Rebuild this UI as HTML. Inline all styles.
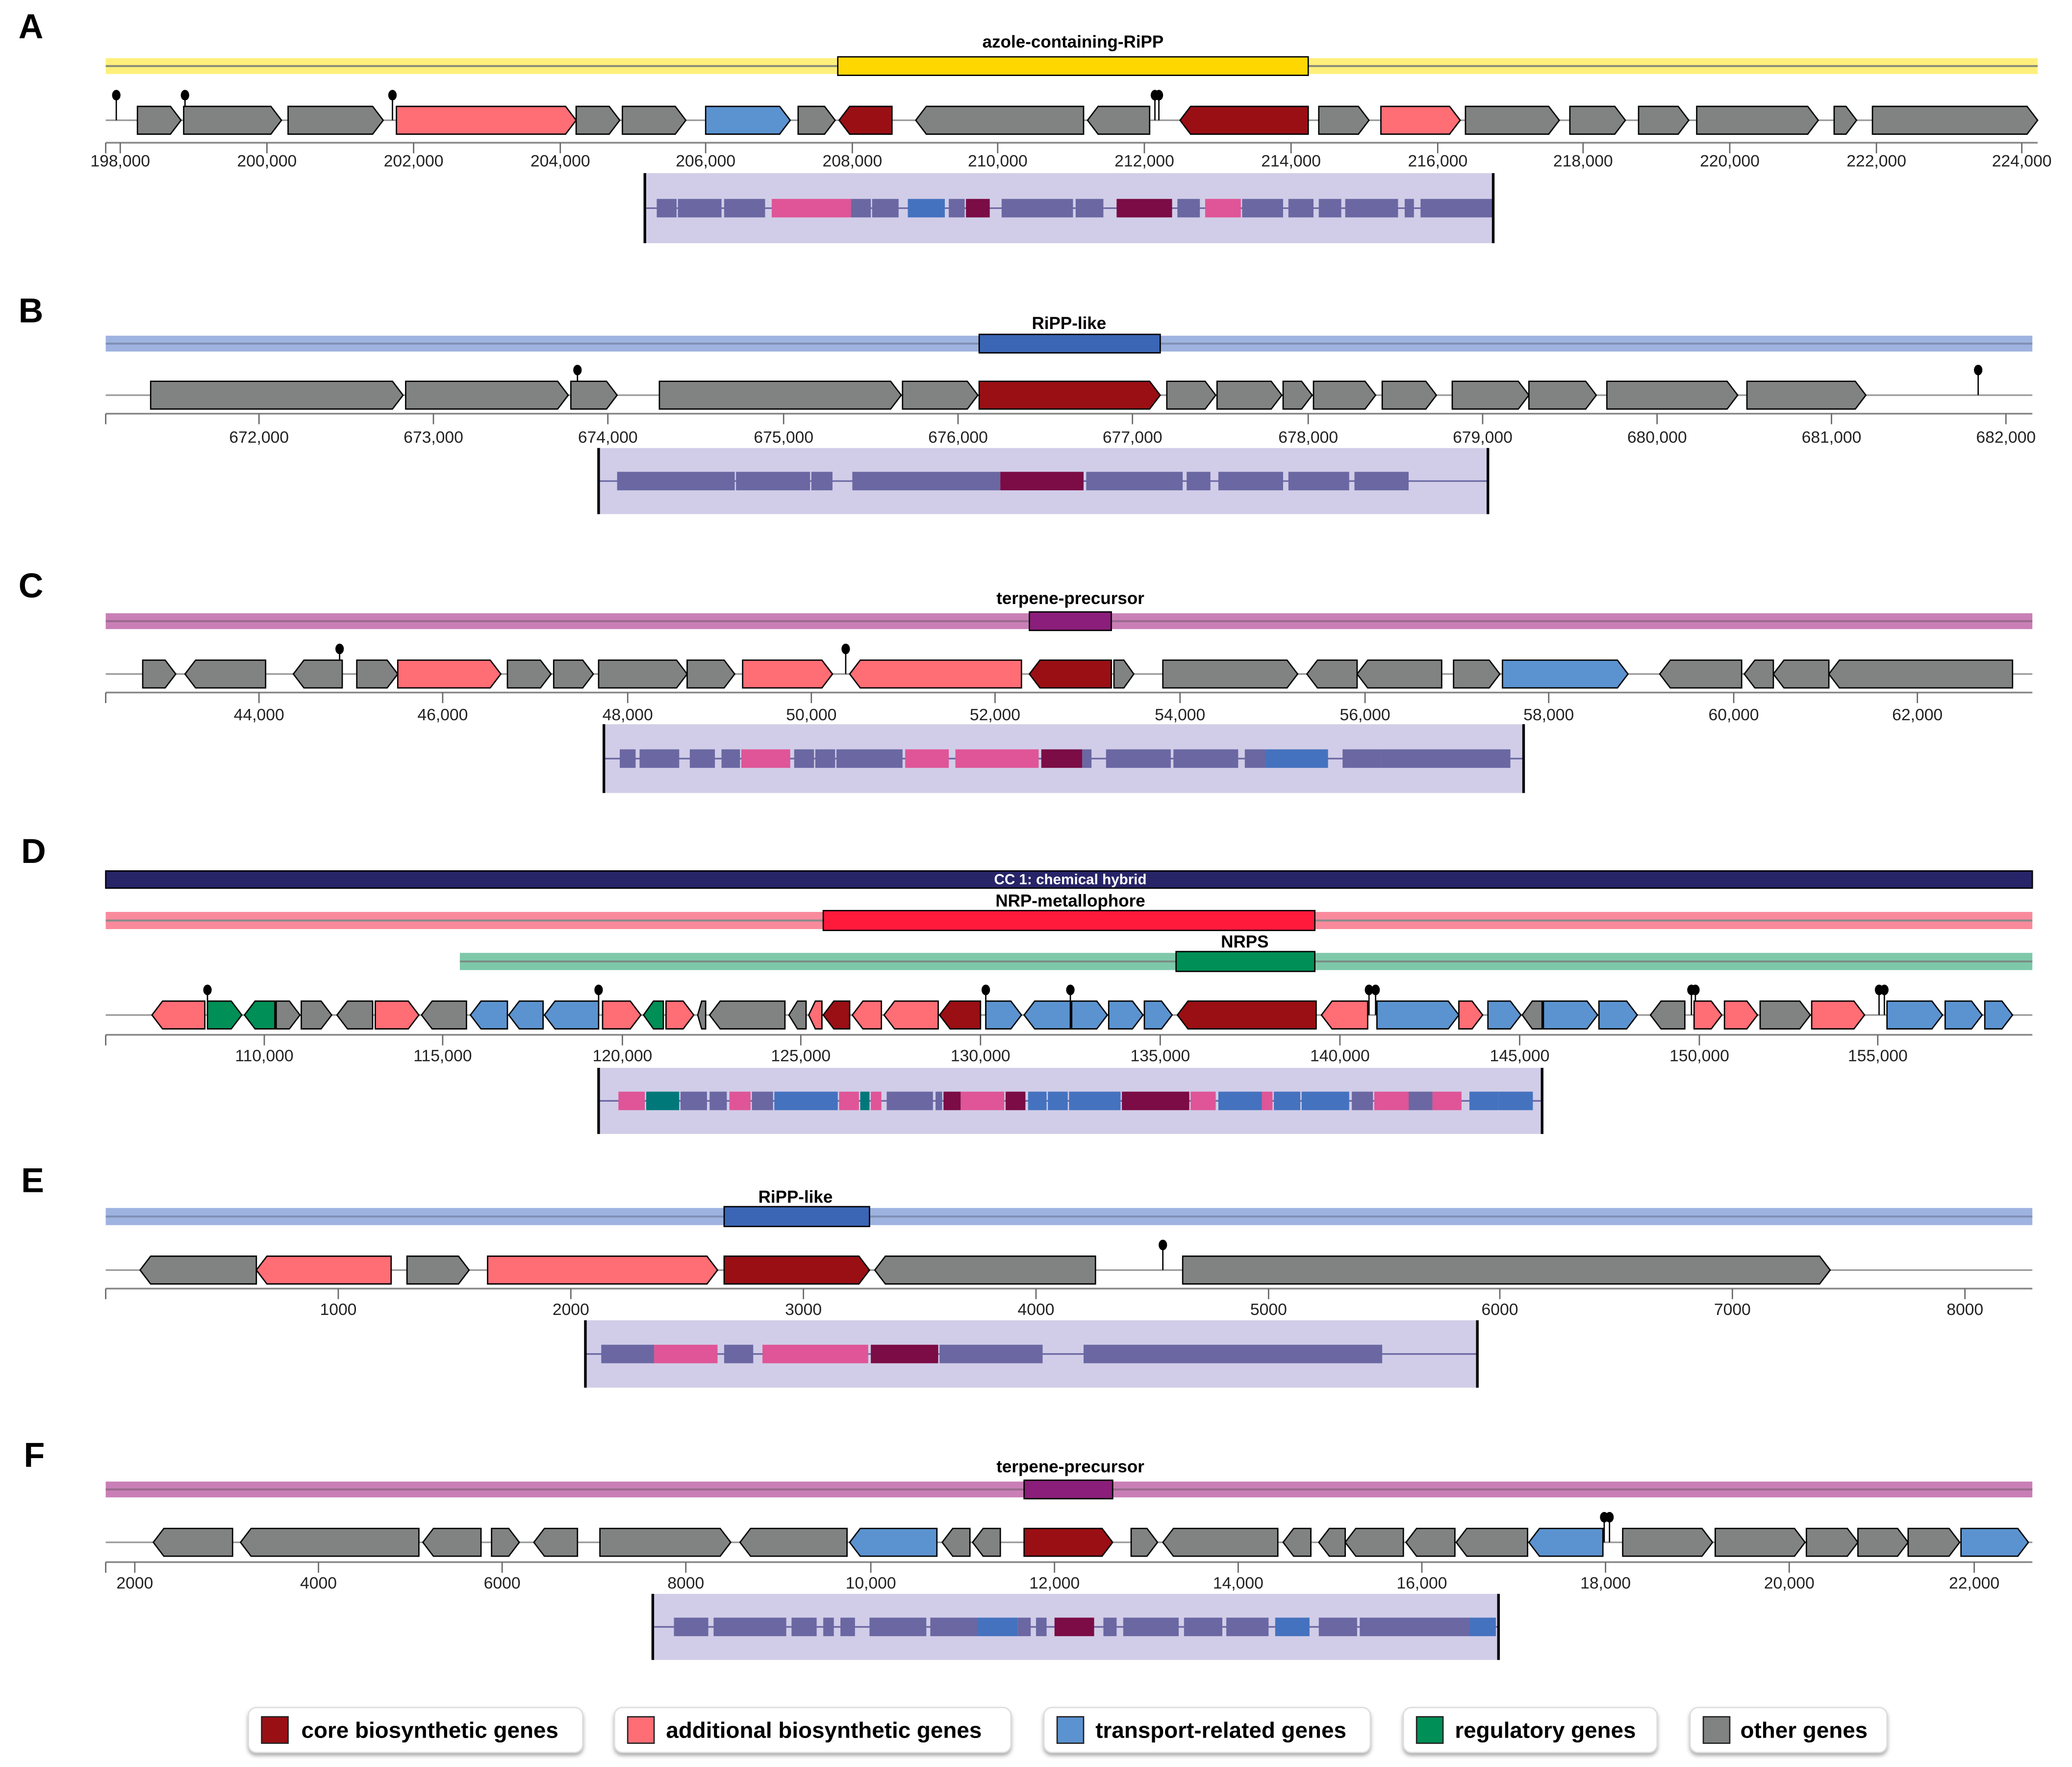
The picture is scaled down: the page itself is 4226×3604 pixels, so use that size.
<!DOCTYPE html>
<html><head><meta charset="utf-8">
<style>
html,body{margin:0;padding:0;background:#fff;}
svg{display:block;}
text{font-family:"Liberation Sans",Arial,sans-serif;}
.pl{font-size:26px;font-weight:bold;}
.rl{font-size:13px;font-weight:bold;text-anchor:middle;}
.ax{font-size:12.5px;text-anchor:middle;fill:#222;}
.lg{font-size:17px;font-weight:bold;}
</style></head>
<body>
<svg id="s" width="4226" height="3604" viewBox="0 0 1568 1337" preserveAspectRatio="none" xmlns="http://www.w3.org/2000/svg">
<defs><filter id="sh" x="-10%" y="-20%" width="120%" height="150%"><feDropShadow dx="0" dy="2" stdDeviation="1.5" flood-color="#888" flood-opacity="0.7"/></filter></defs>
<g id="g"></g>
<text class="pl" x="14" y="29">A</text>
<text class="pl" x="14" y="244">B</text>
<text class="pl" x="14" y="452">C</text>
<text class="pl" x="16" y="653">D</text>
<text class="pl" x="16" y="902">E</text>
<text class="pl" x="18" y="1110">F</text>
<text class="rl" x="812" y="36">azole-containing-RiPP</text>
<text class="rl" x="809" y="249">RiPP-like</text>
<text class="rl" x="810" y="457">terpene-precursor</text>
<text class="rl" x="810" y="669" style="fill:#fff;font-size:11px">CC 1: chemical hybrid</text>
<text class="rl" x="810" y="686">NRP-metallophore</text>
<text class="rl" x="942" y="717">NRPS</text>
<text class="rl" x="602" y="910">RiPP-like</text>
<text class="rl" x="810" y="1114">terpene-precursor</text>
<g id="ax"></g>
<g filter="url(#sh)" fill="#fff" stroke="#ddd" stroke-width="1">
<rect x="188" y="1292" width="253" height="34" rx="6"/>
<rect x="465" y="1292" width="300" height="34" rx="6"/>
<rect x="790" y="1292" width="247" height="34" rx="6"/>
<rect x="1062" y="1292" width="192" height="34" rx="6"/>
<rect x="1279" y="1292" width="149" height="34" rx="6"/>
</g>
<g stroke="#222" stroke-width="1">
<rect x="198" y="1299" width="20" height="20" fill="#9a0f14"/>
<rect x="475" y="1299" width="20" height="20" fill="#ff6d75"/>
<rect x="800" y="1299" width="20" height="20" fill="#5b93d0"/>
<rect x="1072" y="1299" width="20" height="20" fill="#008f56"/>
<rect x="1289" y="1299" width="20" height="20" fill="#818382"/>
</g>
<text class="lg" x="228" y="1315">core biosynthetic genes</text>
<text class="lg" x="504" y="1315">additional biosynthetic genes</text>
<text class="lg" x="829" y="1315">transport-related genes</text>
<text class="lg" x="1101" y="1315">regulatory genes</text>
<text class="lg" x="1317" y="1315">other genes</text>
</svg>
<script>
var C={c:'#9a0f14',a:'#ff6d75',t:'#5b93d0',r:'#008f56',o:'#818382'};
var M={o:'#6a67a3',a:'#df5597',c:'#7b0c45',t:'#4472bf',r:'#00787a'};
var h='';
function bar(x1,x2,y1,y2,fill,hx1,hx2,hfill,lc){
 h+='<rect x="'+x1+'" y="'+y1+'" width="'+(x2-x1)+'" height="'+(y2-y1)+'" fill="'+fill+'"/>';
 var m=(y1+y2)/2;h+='<line x1="'+x1+'" x2="'+x2+'" y1="'+m+'" y2="'+m+'" stroke="'+(lc||'#8a8a7a')+'" stroke-width="1.5"/>';
 if(hx1!=null)h+='<rect x="'+hx1+'" y="'+(y1-1)+'" width="'+(hx2-hx1)+'" height="'+(y2-y1+2)+'" fill="'+hfill+'" stroke="#000" stroke-width="1"/>';
}
function track(y,x1,x2,genes,pins){
 h+='<line x1="'+x1+'" x2="'+x2+'" y1="'+y+'" y2="'+y+'" stroke="#999" stroke-width="1.2"/>';
 pins.forEach(function(p){h+='<line x1="'+p+'" x2="'+p+'" y1="'+(y-19)+'" y2="'+y+'" stroke="#000" stroke-width="1"/><ellipse cx="'+p+'" cy="'+(y-19)+'" rx="3.2" ry="4" fill="#000"/>';});
 genes.forEach(function(g){var a=g[0],b=g[1],d=g[2],col=C[g[3]];var t=y-10.5,bo=y+10.5,hl=Math.min(8,(b-a)*0.5);var pts;
  if(d>0)pts=[[a,t],[b-hl,t],[b,y],[b-hl,bo],[a,bo]];else pts=[[b,t],[a+hl,t],[a,y],[a+hl,bo],[b,bo]];
  h+='<polygon points="'+pts.map(function(p){return p.join(',')}).join(' ')+'" fill="'+col+'" stroke="#000" stroke-width="1"/>';});
}
function axis(y,x1,x2,ticks,ly){
 h+='<line x1="'+x1+'" x2="'+x2+'" y1="'+y+'" y2="'+y+'" stroke="#888" stroke-width="1.3"/>';
 h+='<line x1="'+x1+'" x2="'+x1+'" y1="'+y+'" y2="'+(y+8)+'" stroke="#666"/>';
 ticks.forEach(function(t){h+='<line x1="'+t[0]+'" x2="'+t[0]+'" y1="'+y+'" y2="'+(y+8)+'" stroke="#666"/><text class="ax" x="'+t[0]+'" y="'+ly+'" style="font-size:12.5px;text-anchor:middle;fill:#222;font-family:Liberation Sans,sans-serif">'+t[1]+'</text>';});
}
function mini(x1,x2,y1,y2,blocks){
 h+='<rect x="'+x1+'" y="'+y1+'" width="'+(x2-x1)+'" height="'+(y2-y1)+'" fill="#d1cde8"/>';
 var m=(y1+y2)/2;h+='<line x1="'+x1+'" x2="'+x2+'" y1="'+m+'" y2="'+m+'" stroke="#6a67a3" stroke-width="1.2"/>';
 blocks.forEach(function(b){h+='<rect x="'+b[0]+'" y="'+(m-7)+'" width="'+(b[1]-b[0])+'" height="14" fill="'+M[b[2]||'o']+'"/>';});
 h+='<line x1="'+x1+'" x2="'+x1+'" y1="'+y1+'" y2="'+y2+'" stroke="#000" stroke-width="2"/><line x1="'+x2+'" x2="'+x2+'" y1="'+y1+'" y2="'+y2+'" stroke="#000" stroke-width="2"/>';
}
function T(xs,labs){return xs.map(function(x,i){return [x,labs[i]]});}
// A
bar(80,1542,44,56,'#fff07c',634,990,'#ffd700');
track(91,80,1542,[[104,137,1,'o'],[139,213,1,'o'],[218,290,1,'o'],[300,436,1,'a'],[436,469,1,'o'],[471,519,1,'o'],[534,598,1,'t'],[604,632,1,'o'],[635,675,-1,'c'],[693,820,-1,'o'],[823,870,-1,'o'],[893,990,-1,'c'],[998,1036,1,'o'],[1045,1105,1,'a'],[1109,1180,1,'o'],[1188,1230,1,'o'],[1240,1278,1,'o'],[1284,1376,1,'o'],[1388,1405,1,'o'],[1417,1542,1,'o']],[88,140,297,874,877]);
axis(108,80,1542,T([91,202,313,424,534,645,755,866,977,1088,1198,1309,1420,1530],['198,000','200,000','202,000','204,000','206,000','208,000','210,000','212,000','214,000','216,000','218,000','220,000','222,000','224,000']),126);
mini(488,1130,131,184,[[497,512],[513,546],[548,579],[584,644,'a'],[644,659],[660,680],[687,715,'t'],[718,730],[731,749,'c'],[758,812],[814,835],[845,887,'c'],[891,908],[912,939,'a'],[940,971],[975,994],[998,1015],[1018,1058],[1063,1070],[1075,1130]]);
// B
bar(80,1538,254,266,'#9fb3e0',741,878,'#3a66b5','#7f8fb5');
track(299,80,1538,[[114,305,1,'o'],[307,430,1,'o'],[432,467,1,'o'],[499,682,1,'o'],[683,740,1,'o'],[741,878,1,'c'],[883,920,1,'o'],[921,970,1,'o'],[971,993,1,'o'],[994,1041,1,'o'],[1046,1087,1,'o'],[1099,1157,1,'o'],[1157,1208,1,'o'],[1216,1315,1,'o'],[1322,1412,1,'o']],[437,1497]);
axis(313,80,1538,T([196,328,460,593,725,857,990,1122,1254,1386,1518],['672,000','673,000','674,000','675,000','676,000','677,000','678,000','679,000','680,000','681,000','682,000']),335);
mini(453,1126,339,389,[[467,556],[557,613],[614,630],[645,757],[757,820,'c'],[822,895],[898,916],[922,971],[975,1021],[1025,1066]]);
// C
bar(80,1538,464,476,'#c97fb6',779,841,'#8b1e7a','#9a6a8e');
track(510,80,1538,[[108,133,1,'o'],[140,201,-1,'o'],[222,259,-1,'o'],[270,301,1,'o'],[301,379,1,'a'],[384,417,1,'o'],[419,449,1,'o'],[453,520,1,'o'],[520,556,1,'o'],[562,630,1,'a'],[643,773,-1,'a'],[779,841,-1,'c'],[843,858,1,'o'],[880,982,1,'o'],[989,1027,-1,'o'],[1027,1091,-1,'o'],[1100,1135,1,'o'],[1137,1232,1,'t'],[1256,1318,-1,'o'],[1320,1342,-1,'o'],[1342,1384,-1,'o'],[1384,1523,-1,'o']],[257,640]);
axis(524,80,1538,T([196,335,475,614,753,893,1033,1172,1312,1451],['44,000','46,000','48,000','50,000','52,000','54,000','56,000','58,000','60,000','62,000']),545);
mini(457,1153,548,600,[[469,481],[484,514],[522,541],[546,560],[561,598,'a'],[601,616],[617,632],[633,683],[685,718,'a'],[723,786,'a'],[788,819,'c'],[819,826],[837,886],[888,937],[942,958],[958,1005,'t'],[1016,1045],[1045,1143]]);
// D
h+='<rect x="80" y="659" width="1458" height="13" fill="#272468" stroke="#000" stroke-width="1"/>';
bar(80,1538,690,703,'#f98a9c',623,995,'#ff1a3c','#8a8a8a');
bar(348,1538,721,734,'#7ec8aa',890,995,'#008f56','#7a8f85');
track(768,80,1538,[[115,155,-1,'a'],[157,183,1,'r'],[185,208,-1,'r'],[209,227,1,'o'],[228,251,1,'o'],[255,282,-1,'o'],[284,317,1,'a'],[319,353,-1,'o'],[356,384,-1,'t'],[385,411,-1,'t'],[412,453,-1,'t'],[456,485,1,'a'],[487,502,-1,'r'],[504,525,1,'a'],[528,534,-1,'o'],[537,594,-1,'o'],[597,610,-1,'o'],[612,622,-1,'a'],[623,643,-1,'c'],[645,667,-1,'a'],[669,710,-1,'a'],[711,742,-1,'c'],[746,773,1,'t'],[775,810,-1,'t'],[811,838,1,'t'],[839,865,1,'t'],[866,887,1,'t'],[891,996,-1,'c'],[1000,1035,-1,'a'],[1042,1104,1,'t'],[1104,1122,1,'a'],[1126,1151,1,'t'],[1152,1167,-1,'o'],[1168,1209,1,'t'],[1210,1239,1,'t'],[1249,1275,-1,'o'],[1282,1303,1,'a'],[1305,1330,1,'a'],[1332,1370,1,'o'],[1371,1411,1,'a'],[1428,1470,1,'t'],[1472,1500,1,'t'],[1502,1523,1,'t']],[157,453,746,810,1036,1041,1280,1283,1422,1426]);
axis(783,80,1538,T([200,335,471,606,742,878,1014,1150,1286,1421],['110,000','115,000','120,000','125,000','130,000','135,000','140,000','145,000','150,000','155,000']),803);
mini(453,1167,808,858,[[468,488,'a'],[489,514,'r'],[515,535],[537,550],[552,568,'a'],[569,585],[586,634,'t'],[635,650,'a'],[651,658,'r'],[659,667,'a'],[671,706],[708,713],[714,727,'c'],[727,760,'a'],[761,776,'c'],[778,792,'t'],[793,808,'t'],[809,848,'t'],[849,900,'c'],[901,920,'a'],[922,955,'t'],[955,963,'a'],[964,984,'t'],[985,1021,'t'],[1023,1039],[1040,1066,'a'],[1066,1084],[1084,1106,'a'],[1112,1134,'t'],[1134,1160,'t']]);
// E
bar(80,1538,914,927,'#9fb3e0',548,658,'#3a66b5','#7f8fb5');
track(961,80,1538,[[106,194,-1,'o'],[194,296,-1,'a'],[308,355,1,'o'],[369,543,1,'a'],[548,658,1,'c'],[662,829,-1,'o'],[895,1385,1,'o']],[880]);
axis(975,80,1538,T([256,432,608,784,960,1135,1311,1487],['1000','2000','3000','4000','5000','6000','7000','8000']),995);
mini(443,1118,999,1050,[[455,495],[495,543,'a'],[548,570],[577,657,'a'],[659,710,'c'],[711,789],[820,1046]]);
// F
bar(80,1538,1121,1133,'#c97fb6',775,842,'#8b1e7a','#9a6a8e');
track(1167,80,1538,[[116,176,-1,'o'],[182,317,-1,'o'],[320,364,-1,'o'],[372,393,1,'o'],[404,437,-1,'o'],[454,553,1,'o'],[560,641,-1,'o'],[643,709,-1,'t'],[713,734,-1,'o'],[736,757,-1,'o'],[775,842,1,'c'],[856,876,1,'o'],[880,967,-1,'o'],[971,992,-1,'o'],[998,1018,-1,'o'],[1018,1062,-1,'o'],[1064,1101,-1,'o'],[1102,1156,-1,'o'],[1157,1213,-1,'t'],[1228,1296,1,'o'],[1298,1366,1,'o'],[1367,1406,1,'o'],[1406,1444,1,'o'],[1444,1483,1,'o'],[1484,1535,1,'t']],[1214,1218]);
axis(1182,80,1538,T([102,241,380,519,659,798,937,1076,1215,1354,1494],['2000','4000','6000','8000','10,000','12,000','14,000','16,000','18,000','20,000','22,000']),1202);
mini(494,1134,1206,1256,[[510,536],[540,595],[599,618],[623,631],[636,647],[658,701],[704,740],[740,770,'t'],[770,780],[784,792],[798,828,'c'],[835,845],[850,892],[896,925],[928,960],[965,991,'t'],[998,1027],[1029,1058],[1058,1112],[1112,1132,'t']]);
document.getElementById('g').innerHTML=h;
</script>
</body></html>
